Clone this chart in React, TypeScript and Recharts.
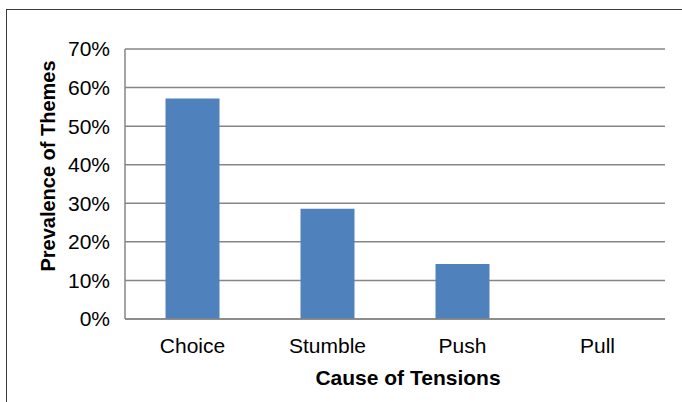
import { BarChart, Bar, XAxis, YAxis, CartesianGrid, Label } from "recharts";

const causes = ["Choice", "Stumble", "Push", "Pull"];
const prevalence = [0.5714, 0.2857, 0.1429, 0];
const yTicks = [0, 0.1, 0.2, 0.3, 0.4, 0.5, 0.6, 0.7];

const data = causes.map((cause, i) => ({ cause, value: prevalence[i] }));

const tickFont = { fill: "#000", fontSize: 21, fontFamily: "'Liberation Sans', Arial, sans-serif" };
const gridColor = "#868686";

const App = () => {
  return (
    <div style={{ position: "absolute", left: 0, top: 0, width: 682, height: 402, overflow: "hidden", background: "#fff" }}>
      {/* frame around the chart, cut off at right and bottom */}
      <div style={{ position: "absolute", left: 6, top: 9, width: 800, height: 500, border: "1px solid #3a3a3a" }} />
      <div style={{ position: "absolute", left: 0, top: 0 }}>
        <BarChart
          width={682}
          height={402}
          data={data}
          margin={{ top: 49, right: 17, bottom: 0, left: 45 }}
          barCategoryGap="30%"
        >
          <CartesianGrid vertical={false} stroke={gridColor} strokeWidth={1.5} />
          <XAxis
            dataKey="cause"
            height={83}
            tick={tickFont}
            tickSize={0}
            tickMargin={19}
            axisLine={{ stroke: gridColor, strokeWidth: 1.5 }}
          >
            <Label
              content={() => (
                <text
                  x={408}
                  y={385}
                  textAnchor="middle"
                  fontSize={21}
                  fontWeight="bold"
                  fontFamily="'Liberation Sans', Arial, sans-serif"
                  fill="#000"
                >
                  Cause of Tensions
                </text>
              )}
            />
          </XAxis>
          <YAxis
            width={80}
            domain={[0, 0.7]}
            ticks={yTicks}
            tickFormatter={(v: number) => `${Math.round(v * 100)}%`}
            tick={tickFont}
            tickSize={0}
            tickMargin={15}
            axisLine={{ stroke: gridColor, strokeWidth: 1.5 }}
          >
            <Label
              content={() => (
                <text
                  x={55}
                  y={166}
                  transform="rotate(-90 55 166)"
                  textAnchor="middle"
                  fontSize={20}
                  fontWeight="bold"
                  fontFamily="'Liberation Sans', Arial, sans-serif"
                  fill="#000"
                >
                  Prevalence of Themes
                </text>
              )}
            />
          </YAxis>
          <Bar dataKey="value" fill="#4F81BD" isAnimationActive={false} />
        </BarChart>
      </div>
    </div>
  );
};

export default App;
